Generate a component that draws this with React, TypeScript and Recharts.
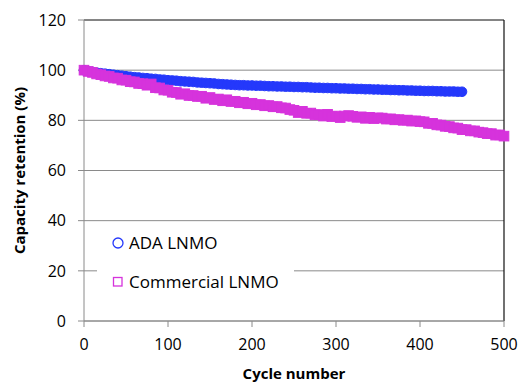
import { ScatterChart, Scatter, XAxis, YAxis, CartesianGrid, ReferenceLine, Legend } from 'recharts';

// cycle numbers (every 5th cycle)
const cycles = [
  0, 5, 10, 15, 20, 25, 30, 35, 40, 45, 50, 55, 60, 65, 70, 75, 80, 85, 90, 95,
  100, 105, 110, 115, 120, 125, 130, 135, 140, 145, 150, 155, 160, 165, 170, 175, 180, 185, 190, 195,
  200, 205, 210, 215, 220, 225, 230, 235, 240, 245, 250, 255, 260, 265, 270, 275, 280, 285, 290, 295,
  300, 305, 310, 315, 320, 325, 330, 335, 340, 345, 350, 355, 360, 365, 370, 375, 380, 385, 390, 395,
  400, 405, 410, 415, 420, 425, 430, 435, 440, 445, 450, 455, 460, 465, 470, 475, 480, 485, 490, 495,
  500,
];

// capacity retention (%) — ADA LNMO, cycles 0..450
const adaRetention = [
  100.0, 99.6, 99.3, 99.0, 98.8, 98.6, 98.4, 98.2, 98.0, 97.8, 97.6, 97.4, 97.2, 97.1, 96.9, 96.8, 96.6, 96.5, 96.3, 96.2,
  96.0, 95.9, 95.8, 95.6, 95.5, 95.4, 95.3, 95.1, 95.0, 94.9, 94.8, 94.7, 94.5, 94.4, 94.3, 94.2, 94.1, 94.0, 94.0, 93.9,
  93.9, 93.8, 93.8, 93.7, 93.6, 93.6, 93.5, 93.5, 93.4, 93.4, 93.3, 93.3, 93.2, 93.2, 93.1, 93.0, 93.0, 92.9, 92.9, 92.8,
  92.8, 92.7, 92.7, 92.6, 92.6, 92.5, 92.5, 92.4, 92.4, 92.3, 92.3, 92.2, 92.2, 92.1, 92.1, 92.0, 92.0, 91.9, 91.9, 91.8,
  91.8, 91.7, 91.7, 91.7, 91.6, 91.6, 91.5, 91.5, 91.5, 91.4, 91.4,
];

// capacity retention (%) — Commercial LNMO, cycles 0..500
const commercialRetention = [
  100.0, 99.5, 99.1, 98.5, 98.2, 97.7, 97.5, 96.9, 96.8, 96.1, 96.0, 95.4, 95.3, 94.7, 94.6, 94.0, 94.5, 93.0, 92.9, 92.1,
  92.0, 91.2, 91.1, 90.4, 90.6, 89.9, 89.9, 89.5, 89.6, 88.8, 89.1, 88.3, 88.5, 87.8, 88.2, 87.5, 87.6, 87.0, 87.2, 86.6,
  86.8, 86.2, 86.3, 85.8, 85.9, 85.4, 85.5, 85.0, 84.9, 84.3, 84.0, 83.1, 83.6, 82.8, 82.9, 82.2, 82.3, 81.7, 82.4, 81.5,
  81.7, 81.1, 81.7, 81.9, 81.6, 81.2, 81.4, 80.8, 81.2, 80.7, 81.0, 80.9, 80.5, 80.6, 80.2, 80.3, 80.0, 80.1, 79.7, 79.8,
  79.5, 79.4, 78.8, 78.8, 78.2, 78.1, 77.6, 77.5, 77.0, 76.9, 76.3, 76.3, 75.8, 75.8, 75.3, 75.1, 74.7, 74.7, 74.1, 74.2,
  73.7,
];

const xTicks = [0, 100, 200, 300, 400, 500];
const yTicks = [0, 20, 40, 60, 80, 100, 120];

const BLUE = '#2438fb';
const MAGENTA = '#d633dc';
const FONT = 'Open Sans';

const adaData = adaRetention.map((v, i) => ({ cycle: cycles[i], value: v }));
const commercialData = commercialRetention.map((v, i) => ({ cycle: cycles[i], value: v }));

const CircleDot = (props: any) => {
  const { cx, cy } = props;
  if (cx == null || cy == null) return null;
  return <circle cx={cx} cy={cy} r={4.8} fill={BLUE} stroke={BLUE} strokeWidth={1} />;
};

const SquareDot = (props: any) => {
  const { cx, cy } = props;
  if (cx == null || cy == null) return null;
  return <rect x={cx - 4.8} y={cy - 4.8} width={9.6} height={9.6} fill={MAGENTA} stroke={MAGENTA} strokeWidth={1} />;
};

const renderLegend = () => (
  <svg width={197} height={74} style={{ display: 'block', background: '#fff' }}>
    <circle cx={21} cy={17} r={5} fill="none" stroke={BLUE} strokeWidth={1.3} />
    <text x={32} y={17} dy="0.35em" fontSize={17} fontFamily={FONT} fill="#000">
      ADA LNMO
    </text>
    <rect x={16.5} y={51.5} width={8.5} height={8.5} fill="none" stroke={MAGENTA} strokeWidth={1.3} />
    <text x={32} y={56} dy="0.35em" fontSize={17} fontFamily={FONT} fill="#000">
      Commercial LNMO
    </text>
  </svg>
);

export default function App() {
  return (
    <div style={{ position: 'absolute', left: 0, top: 0, background: '#fff' }}>
      <ScatterChart width={522} height={382} margin={{ top: 20, right: 18, bottom: 0, left: 0 }}>
        <CartesianGrid vertical={false} stroke="#8a8a8a" strokeWidth={1} />
        <XAxis
          type="number"
          dataKey="cycle"
          domain={[0, 500]}
          ticks={xTicks}
          height={61}
          tickSize={6}
          tickMargin={12}
          stroke="#8a8a8a"
          tick={{ fill: '#000', fontSize: 16, fontFamily: FONT }}
          label={{
            value: 'Cycle number',
            position: 'insideBottom',
            offset: 3,
            style: { fill: '#000', fontSize: 15, fontWeight: 700, fontFamily: FONT },
          }}
        />
        <YAxis
          type="number"
          dataKey="value"
          domain={[0, 120]}
          ticks={yTicks}
          width={84}
          tickSize={6}
          tickMargin={12}
          stroke="#8a8a8a"
          tick={{ fill: '#000', fontSize: 16, fontFamily: FONT }}
          label={{
            value: 'Capacity retention (%)',
            angle: -90,
            position: 'insideLeft',
            offset: 20,
            style: { textAnchor: 'middle', fill: '#000', fontSize: 15, fontWeight: 700, fontFamily: FONT },
          }}
        />
        <ReferenceLine y={120} stroke="#444" strokeWidth={1} />
        <ReferenceLine x={500} stroke="#111" strokeWidth={1.2} />
        <Legend
          layout="horizontal"
          verticalAlign="middle"
          align="center"
          content={renderLegend}
          wrapperStyle={{ left: 97, top: 226, width: 197, height: 74, margin: 0 }}
        />
        <Scatter name="ADA LNMO" data={adaData} shape={CircleDot} isAnimationActive={false} />
        <Scatter name="Commercial LNMO" data={commercialData} shape={SquareDot} isAnimationActive={false} />
      </ScatterChart>
    </div>
  );
}
